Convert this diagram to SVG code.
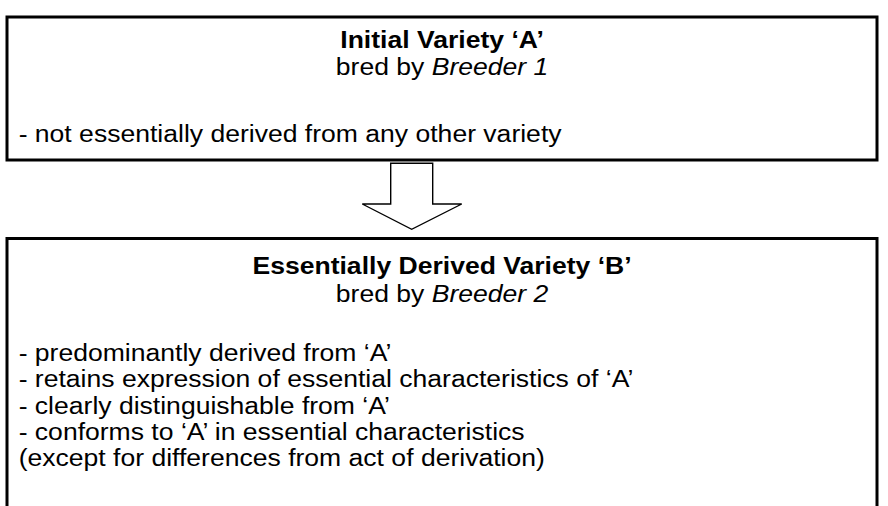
<svg xmlns="http://www.w3.org/2000/svg" width="888" height="506" viewBox="0 0 888 506">
<style>
.box{fill:#fff;stroke:#000;stroke-width:3}
.t{font-family:"Liberation Sans",Arial,sans-serif;font-size:23.5px;fill:#000}
.b{font-weight:bold}
.i{font-style:italic}
.c{text-anchor:middle}
.arrow{fill:#fff;stroke:#000;stroke-width:1.4;stroke-linejoin:miter}
</style>
<rect width="888" height="506" fill="#fff"/>
<g id="initial-variety">
<rect class="box" x="7" y="17" width="870" height="143"/>
<g transform="scale(1.13 1)">
<text class="t b c" x="391.2" y="48.5">Initial Variety ‘A’</text>
<text class="t c" x="391.2" y="75.5">bred by <tspan class="i">Breeder 1</tspan></text>
<text class="t" x="16.5" y="142">- not essentially derived from any other variety</text>
</g>
</g>
<g id="connectors">
<polygon class="arrow" points="390.7,163.3 432.7,163.3 432.7,204 461.7,204 411.7,229.3 362.3,204 390.7,204"/>
</g>
<g id="derived-variety">
<rect class="box" x="7" y="238.5" width="870" height="300"/>
<g transform="scale(1.13 1)">
<text class="t b c" x="391.2" y="274">Essentially Derived Variety ‘B’</text>
<text class="t c" x="391.2" y="302">bred by <tspan class="i">Breeder 2</tspan></text>
<text class="t" x="16.5" y="361">- predominantly derived from ‘A’</text>
<text class="t" x="16.5" y="387.3">- retains expression of essential characteristics of ‘A’</text>
<text class="t" x="16.5" y="413.6">- clearly distinguishable from ‘A’</text>
<text class="t" x="16.5" y="439.9">- conforms to ‘A’ in essential characteristics</text>
<text class="t" x="16.5" y="466.2">(except for differences from act of derivation)</text>
</g>
</g>
</svg>
